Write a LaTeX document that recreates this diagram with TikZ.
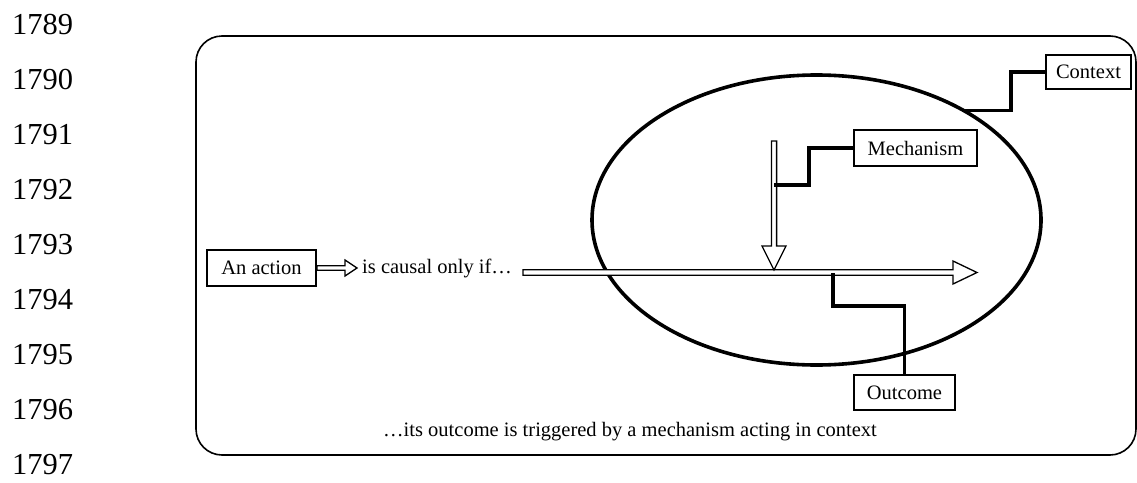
\documentclass[tikz,border=0pt]{standalone}
\usepackage{fontspec}
\setmainfont{Liberation Serif}
\usetikzlibrary{calc,shapes.geometric}

% Outlined (hollow) arrow from #1 to #2: shaft half-width #3, head length #4, head half-width #5
\newcommand\hollowarrow[5]{%
  \coordinate (hb) at ($(#2)!#4!(#1)$);
  \draw[hollow]
    ($(#1)!#3!90:(#2)$) -- ($(hb)!#3!90:(#2)$) -- ($(hb)!#5!90:(#2)$) -- (#2)
    -- ($(hb)!#5!-90:(#2)$) -- ($(hb)!#3!-90:(#2)$) -- ($(#1)!#3!-90:(#2)$) -- cycle;
}

\begin{document}
\begin{tikzpicture}[x=1pt,y=-1pt,
  label/.style={font=\fontsize{20.5}{24}\selectfont},
  box/.style={draw, line width=2pt, inner sep=0pt, label},
  lead/.style={line width=3.6pt, line cap=rect},
  hollow/.style={line width=1.3pt, fill=white, line join=miter},
  lineno/.style={anchor=west, inner sep=0pt, font=\fontsize{30.5}{34}\selectfont}]

\useasboundingbox (0,0) rectangle (1137,482);

% margin line numbers
\foreach \n [count=\i from 0] in {1789,...,1797}
  \node[lineno] (ln\n) at (12,{25+55*\i}) {\n};

% outer frame
\draw[line width=1.6pt, rounded corners=26pt] (196,36) rectangle (1136,455);

% context ellipse
\node[ellipse, draw, line width=3.6pt, minimum width=449, minimum height=290, inner sep=0pt]
  (ell) at (816.5,220) {};

% labelled boxes
\node[box, minimum width=109, minimum height=36] (action) at (261.5,268) {An action};
\node[box, minimum width=123, minimum height=36] (mech) at (915.5,148) {Mechanism};
\node[box, minimum width=85, minimum height=34] (ctx) at (1088.5,72) {Context};
\node[box, minimum width=101, minimum height=35] (out) at (904.5,392.5) {Outcome};

% texts
\node[label, anchor=west, inner xsep=5pt, inner ysep=0pt] (causal) at (357,268) {is causal only if…};
\node[label, inner sep=0pt] (summary) at (630,432) {…its outcome is triggered by a mechanism acting in context};

% hollow arrows
\coordinate (lineS) at (523,272.5);
\coordinate (lineE) at (977,272.5);
\coordinate (mechS) at (774,141);
\coordinate (mechE) at (774,270);
\hollowarrow{action.east}{causal.west}{2.2pt}{12pt}{8pt}
\hollowarrow{lineS}{lineE}{2.8pt}{24pt}{11.5pt}
\hollowarrow{mechS}{mechE}{2.6pt}{24pt}{12pt}

% leader lines
\coordinate (ctxfoot) at (ell.36);
\coordinate (mechfoot) at (776,185);
\coordinate (outfoot) at (833,275);
\draw[lead] (ctx.west) -- ++(-34,0) |- (ctxfoot);
\draw[lead] (mech.west) -- ++(-44,0) |- (mechfoot);
\draw[lead] (out.north) -- ++(0,-68) -| (outfoot);
\end{tikzpicture}
\end{document}
